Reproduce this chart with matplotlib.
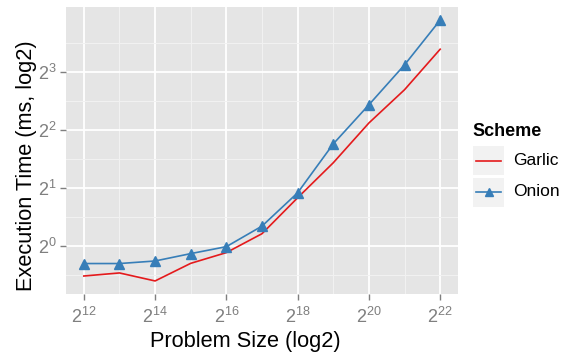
import matplotlib
matplotlib.use('Agg')
import matplotlib.pyplot as plt
from matplotlib.lines import Line2D
from matplotlib.patches import Rectangle
from matplotlib.ticker import NullFormatter

plt.rcParams['font.family'] = ['Liberation Sans', 'DejaVu Sans']
plt.rcParams['mathtext.fontset'] = 'custom'
plt.rcParams['mathtext.rm'] = 'Liberation Sans'
plt.rcParams['mathtext.it'] = 'Liberation Sans:italic'

# data
problem_size = [2 ** k for k in range(12, 23)]
garlic_ms = [0.695, 0.721, 0.655, 0.809, 0.920, 1.154, 1.775, 2.70, 4.35, 6.48, 10.53]
onion_ms = [0.807, 0.807, 0.832, 0.909, 0.988, 1.264, 1.884, 3.385, 5.41, 8.73, 14.93]
x_ticks = [12, 14, 16, 18, 20, 22]
y_ticks = [0, 1, 2, 3]

RED = '#E41A1C'
BLUE = '#377EB8'
GREY_TXT = '#7F7F7F'

fig = plt.figure(figsize=(5.65, 3.54), dpi=100)
ax = fig.add_axes([66 / 565, 1 - 294 / 354, (458 - 66) / 565, (294 - 7) / 354])
ax.set_facecolor('#E5E5E5')
for s in ax.spines.values():
    s.set_visible(False)

ax.set_xscale('log', base=2)
ax.set_yscale('log', base=2)
ax.set_xlim(2 ** 11.5, 2 ** 22.5)
ax.set_ylim(2 ** -0.836, 2 ** 4.126)

ax.set_xticks([2 ** k for k in x_ticks])
ax.set_xticklabels([r'$\mathregular{2^{%d}}$' % k for k in x_ticks])
ax.set_yticks([2 ** k for k in y_ticks])
ax.set_yticklabels([r'$\mathregular{2^{%d}}$' % k for k in y_ticks])
ax.set_xticks([2 ** (k + 1) for k in x_ticks[:-1]], minor=True)
ax.set_yticks([2 ** (k + 0.5) for k in [-1] + y_ticks], minor=True)
ax.xaxis.set_minor_formatter(NullFormatter())
ax.yaxis.set_minor_formatter(NullFormatter())
ax.tick_params(which='minor', length=0)
ax.tick_params(which='major', length=4, width=1, color=GREY_TXT,
               labelcolor=GREY_TXT, labelsize=13)
ax.tick_params(axis='x', pad=5)
ax.tick_params(axis='y', pad=3)
ax.grid(which='major', color='white', lw=1.3)
ax.grid(which='minor', color='#F2F2F2', lw=0.7)
ax.set_axisbelow(True)

ax.plot(problem_size, garlic_ms, color=RED, lw=1.2)
ax.plot(problem_size, onion_ms, color=BLUE, lw=1.2, marker='^', ms=7)

ax.set_xlabel('Problem Size (log2)', fontsize=15.7, va='center')
ax.xaxis.set_label_coords(0.457, -0.167)
ax.set_ylabel('Execution Time (ms, log2)', fontsize=15.7, va='center')
ax.yaxis.set_label_coords(-0.0995, 0.446)

# legend drawn by hand (ggplot style key boxes)
W, H = 565, 354
fig.text(472 / W, 1 - 132 / H, 'Scheme', fontsize=13, fontweight='bold', va='center')
for i, (name, col, mk) in enumerate([('Garlic', RED, None), ('Onion', BLUE, '^')]):
    top = 146 + i * 31.5
    fig.add_artist(Rectangle((473 / W, 1 - (top + 29) / H), 31 / W, 29 / H,
                             transform=fig.transFigure, color='#F2F2F2', lw=0))
    yc = 1 - (top + 14.5) / H
    fig.add_artist(Line2D([476 / W, 501 / W], [yc, yc], transform=fig.transFigure,
                          color=col, lw=1.2))
    if mk:
        fig.add_artist(Line2D([488.5 / W], [yc], transform=fig.transFigure,
                              color=col, marker=mk, ms=5.5))
    fig.text(513 / W, yc, name, fontsize=12.5, va='center')

fig.savefig('out.png', dpi=100)
